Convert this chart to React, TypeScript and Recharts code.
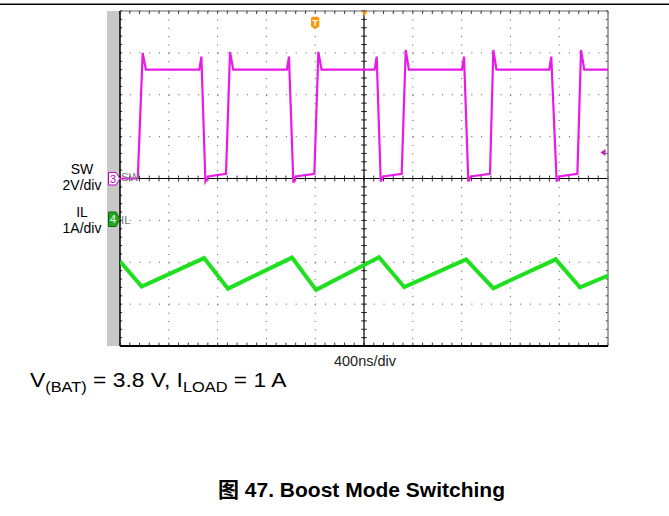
import React from "react";
import { LineChart, Line, XAxis, YAxis, CartesianGrid, ReferenceLine } from "recharts";

// Boost mode switching scope capture: SW (2 V/div) and IL (1 A/div), 400 ns/div

// SW node voltage, time in ns, value in volts
const swTime = [
  0, 138, 146, 186, 212, 650, 667, 700, 722, 869, 902, 928,
  1368, 1385, 1421, 1442, 1593, 1626, 1652,
  2087, 2104, 2137, 2157, 2309, 2342, 2368,
  2803, 2820, 2855, 2875, 3033, 3060, 3086,
  3518, 3535, 3579, 3599, 3749, 3779, 3805, 4000,
];
const swVolts = [
  0, 0, 0.05, 6.0, 5.2, 5.2, 5.82, -0.14, 0.1, 0.22, 6.05, 5.2,
  5.2, 5.82, -0.2, 0.1, 0.22, 6.05, 5.2,
  5.2, 5.82, -0.14, 0.1, 0.22, 6.14, 5.2,
  5.2, 5.82, -0.14, 0.1, 0.22, 6.14, 5.2,
  5.2, 5.82, -0.14, 0.1, 0.22, 6.14, 5.2, 5.2,
];

// inductor current, time in ns, value in amps
const ilTime = [0, 178, 689, 885, 1410, 1607, 2123, 2330, 2836, 3060, 3571, 3770, 4000];
const ilAmps = [-0.98, -1.58, -0.9, -1.63, -0.89, -1.66, -0.88, -1.59, -0.93, -1.62, -0.93, -1.6, -1.32];

// divisions
const timeTicks = [0, 400, 800, 1200, 1600, 2000, 2400, 2800, 3200, 3600, 4000];
const voltTicks = [-8, -6, -4, -2, 0, 2, 4, 6, 8];

const swData = swTime.map((t, i) => ({ t, v: swVolts[i] }));
const ilData = ilTime.map((t, i) => ({ t, a: ilAmps[i] }));

// minor ticks, 5 per division
const timeMinor: number[] = [];
for (let i = 0; i < timeTicks.length - 1; i++)
  for (let k = 0; k < 5; k++) timeMinor.push(timeTicks[i] + k * 80);
timeMinor.push(4000);
const voltMinor: number[] = [];
for (let i = 0; i < voltTicks.length - 1; i++)
  for (let k = 0; k < 5; k++) voltMinor.push(voltTicks[i] + k * 0.4);
voltMinor.push(8);

const font = '"Liberation Sans", Arial, "Noto Sans CJK SC", sans-serif';

export default function App() {
  const seg = (a: { x: number; y: number }, b: { x: number; y: number }, key: string, color = "#333") => (
    <ReferenceLine
      key={key}
      xAxisId="t"
      yAxisId="sw"
      segment={[a, b]}
      stroke={color}
      strokeWidth={1}
      ifOverflow="visible"
    />
  );

  return (
    <div style={{ position: "absolute", left: 0, top: 0, width: 669, height: 516, background: "#fff", fontFamily: font }}>
      {/* grey channel strip */}
      <div style={{ position: "absolute", left: 107, top: 11, width: 13, height: 335, background: "#c8c8c8" }} />
      <div style={{ position: "absolute", left: 0, top: 0 }}>
        <LineChart width={669} height={516} margin={{ top: 11, right: 61, bottom: 170, left: 120 }}>
          <XAxis xAxisId="t" dataKey="t" type="number" domain={[0, 4000]} ticks={timeTicks} hide allowDataOverflow />
          <YAxis yAxisId="sw" type="number" domain={[-8, 8]} ticks={voltTicks} hide allowDataOverflow />
          <YAxis yAxisId="il" type="number" domain={[-3, 5]} hide allowDataOverflow />
          <CartesianGrid xAxisId="t" yAxisId="sw" vertical={false} stroke="#555" strokeDasharray="1 8.76" />
          <CartesianGrid xAxisId="t" yAxisId="sw" horizontal={false} stroke="#555" strokeDasharray="1 7.38" />

          {/* border ticks */}
          {voltMinor.map((v) => seg({ x: 0, y: v }, { x: 18, y: v }, "l" + v))}
          {voltMinor.map((v) => seg({ x: 3982, y: v }, { x: 4000, y: v }, "r" + v))}
          {timeMinor.map((t) => seg({ x: t, y: 8 }, { x: t, y: 7.86 }, "t" + t))}
          {timeMinor.map((t) => seg({ x: t, y: -8 }, { x: t, y: -7.84 }, "b" + t))}
          {/* center cross ticks */}
          {timeMinor.map((t) => seg({ x: t, y: -0.14 }, { x: t, y: 0.14 }, "ch" + t))}
          {voltMinor.map((v) => seg({ x: 1976, y: v }, { x: 2024, y: v }, "cv" + v))}

          <ReferenceLine xAxisId="t" yAxisId="sw" y={0} stroke="#000" strokeWidth={1.2} />
          <ReferenceLine xAxisId="t" yAxisId="sw" x={2000} stroke="#000" strokeWidth={1.2} />
          <ReferenceLine xAxisId="t" yAxisId="sw" x={0} stroke="#000" strokeWidth={1.5} />
          <ReferenceLine xAxisId="t" yAxisId="sw" x={4000} stroke="#888" strokeWidth={1.5} />
          <ReferenceLine xAxisId="t" yAxisId="sw" y={8} stroke="#666" strokeWidth={1} />
          <ReferenceLine xAxisId="t" yAxisId="sw" y={-8} stroke="#000" strokeWidth={2} />

          <Line
            data={ilData}
            xAxisId="t"
            yAxisId="il"
            dataKey="a"
            type="linear"
            stroke="#1fe01f"
            strokeWidth={4}
            dot={false}
            isAnimationActive={false}
          />
          <Line
            data={swData}
            xAxisId="t"
            yAxisId="sw"
            dataKey="v"
            type="linear"
            stroke="#e81ae8"
            strokeWidth={2.2}
            dot={false}
            isAnimationActive={false}
          />
        </LineChart>
      </div>

      <svg width={669} height={516} style={{ position: "absolute", left: 0, top: 0, pointerEvents: "none" }} fontFamily={font}>
        <line x1={0} y1={4.3} x2={669} y2={4.3} stroke="#000" strokeWidth={1.5} />

        {/* channel labels */}
        <text x={82} y={174} fontSize={14} textAnchor="middle" fill="#000">SW</text>
        <text x={82} y={190} fontSize={14} textAnchor="middle" fill="#000">2V/div</text>
        <text x={82} y={217} fontSize={14} textAnchor="middle" fill="#000">IL</text>
        <text x={82} y={233} fontSize={14} textAnchor="middle" fill="#000">1A/div</text>

        {/* channel 3 marker */}
        <path d="M108.5,172.5 H116 L120,178.7 L116,185 H108.5 Z" fill="#fff" stroke="#c000c0" strokeWidth={1} />
        <text x={113} y={182.6} fontSize={11} textAnchor="middle" fill="#c000c0">3</text>
        <text x={121} y={181} fontSize={11.5} fill="#777">SW</text>
        {/* channel 4 marker */}
        <path d="M108.5,212 H116 L120,219 L116,226.5 H108.5 Z" fill="#1fa81f" stroke="#0b6b0b" strokeWidth={1} />
        <text x={113} y={223.2} fontSize={11} textAnchor="middle" fill="#fff">4</text>
        <text x={121} y={224} fontSize={11.5} fill="#777">IL</text>

        {/* trigger markers */}
        <path d="M311,18.5 Q311,16.7 312.8,16.7 H317.5 Q319.3,16.7 319.3,18.5 V26.5 L315.2,29.3 L311,26.5 Z" fill="#f59a0c" />
        <text x={315.2} y={26} fontSize={9} fontWeight="bold" textAnchor="middle" fill="#fff">T</text>
        <path d="M361.5,11.5 L367.5,11.5 L364.5,16 Z" fill="#f59a0c" />
        <path d="M600.5,152.5 L605.5,149 L605.5,156 Z" fill="#c020c0" />

        <text x={365} y={366} fontSize={14.5} textAnchor="middle" fill="#222">400ns/div</text>

        <text x={0} y={386.7} fontSize={19.5} fill="#000" transform="translate(30,0) scale(1.17,1)">
          V<tspan fontSize={14} dy={5}>(BAT)</tspan>
          <tspan dy={-5}> = 3.8 V, I</tspan>
          <tspan fontSize={14} dy={5}>LOAD</tspan>
          <tspan dy={-5}> = 1 A</tspan>
        </text>

        <text x={218} y={496.7} fontSize={21} fontWeight="bold" fill="#000">图 47. Boost Mode Switching</text>
      </svg>
    </div>
  );
}
